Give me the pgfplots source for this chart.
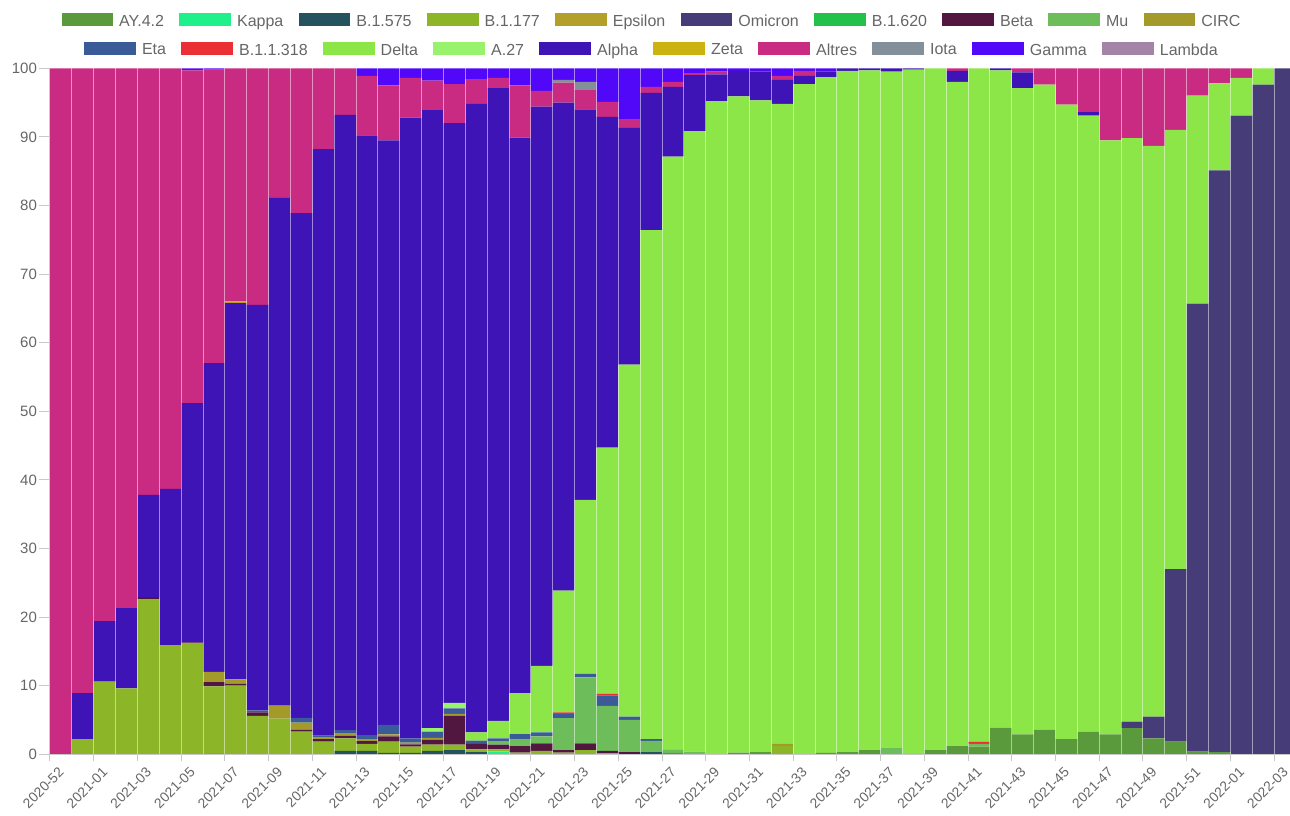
\documentclass[border=0pt]{standalone}
\usepackage{pgfplots}
\pgfplotsset{compat=1.18}
\usepackage{pgfplotstable}
\usepackage{fontspec}
\setmainfont{Liberation Sans}

\definecolor{cAY}{HTML}{5B9A3C}
\definecolor{cKap}{HTML}{20F08A}
\definecolor{cB575}{HTML}{24525E}
\definecolor{cB177}{HTML}{8CB528}
\definecolor{cEps}{HTML}{B3A02A}
\definecolor{cOmi}{HTML}{463C78}
\definecolor{cB620}{HTML}{22C24A}
\definecolor{cBeta}{HTML}{521740}
\definecolor{cMu}{HTML}{6DBE5B}
\definecolor{cCIRC}{HTML}{A39A2A}
\definecolor{cEta}{HTML}{3B5A98}
\definecolor{cB318}{HTML}{EA3035}
\definecolor{cDelta}{HTML}{8DE648}
\definecolor{cA27}{HTML}{98F26C}
\definecolor{cAlpha}{HTML}{3E14B6}
\definecolor{cZeta}{HTML}{CBB412}
\definecolor{cAltres}{HTML}{C92A82}
\definecolor{cIota}{HTML}{83909A}
\definecolor{cGamma}{HTML}{5208F8}
\definecolor{cLambda}{HTML}{A383A6}
\definecolor{labelgray}{HTML}{666666}
\definecolor{axisgray}{HTML}{C8C8C8}

\pgfplotstableread{
x AY Kap B575 B177 Eps Omi B620 Beta Mu CIRC Eta B318 Delta A27 Alpha Zeta Altres Iota Gamma Lambda
0 0 0 0 0 0 0 0 0 0 0 0 0 0 0 0 0 100 0 0 0
1 0 0 0 2.2 0 0 0 0 0 0 0 0 0 0 6.7 0 91.1 0 0 0
2 0 0 0 10.6 0 0 0 0 0 0 0 0 0 0 8.8 0 80.6 0 0 0
3 0 0 0 9.6 0 0 0 0 0 0 0 0 0 0 11.7 0 78.7 0 0 0
4 0 0 0 22.6 0 0 0 0.3 0 0 0 0 0 0 14.9 0 62.2 0 0 0
5 0 0 0 15.9 0 0 0 0 0 0 0 0 0 0 22.8 0 61.3 0 0 0
6 0 0 0 16.2 0 0 0 0.1 0 0 0 0 0 0 34.9 0 48.5 0 0.3 0
7 0 0 0.1 9.8 0 0 0 0.6 0 1.5 0 0 0 0 45.0 0 42.8 0 0.2 0
8 0 0 0 10.0 0 0 0 0.3 0 0.6 0 0 0 0 54.9 0.3 33.9 0 0 0
9 0 0 0 5.6 0 0 0 0.5 0 0 0.3 0 0 0 59.1 0 34.5 0 0 0
10 0 0 0 5.2 0 0 0 0 0 1.9 0 0 0 0 74.0 0 18.9 0 0 0
11 0 0 0 3.3 0 0 0 0.3 0 1.0 0.7 0 0 0 73.6 0 21.1 0 0 0
12 0 0 0 1.85 0 0 0 0.35 0 0.3 0.2 0 0 0 85.5 0 11.8 0 0 0
13 0 0 0.5 1.8 0 0 0 0.4 0 0.3 0.5 0 0 0 89.7 0 6.8 0 0 0
14 0 0 0.5 1.0 0 0 0 0.4 0 0.3 0.6 0 0 0 87.4 0 8.7 0 1.1 0
15 0 0 0.2 1.65 0 0 0 0.75 0 0.3 1.4 0 0 0 85.2 0 8.0 0 2.5 0
16 0 0 0.2 0.9 0 0 0 0.35 0 0.25 0.6 0 0 0 90.5 0 5.8 0 1.4 0
17 0 0 0.5 0.9 0 0 0 0.7 0 0.3 0.9 0 0 0.5 90.1 0 4.3 0 1.8 0
18 0 0 0.6 0.8 0 0 0 4.2 0 0.3 0.8 0 0 0.8 84.5 0 5.7 0 2.3 0
19 0 0 0.3 0.4 0 0 0 0.8 0 0 0.5 0 1.2 0 91.6 0 3.6 0 1.6 0
20 0 0.4 0 0.3 0 0 0 0.7 0.5 0 0.4 0 2.55 0 92.25 0 1.5 0 1.4 0
21 0 0 0 0.25 0 0 0 0.95 1.0 0 0.75 0 5.95 0 81.0 0 7.6 0 2.5 0
22 0 0 0 0.5 0 0 0 1.1 1.0 0 0.6 0 9.7 0 81.5 0 2.3 0 3.3 0
23 0 0 0 0.25 0 0 0 0.35 4.65 0 0.65 0.2 17.75 0 71.15 0 2.9 0.4 1.7 0
24 0 0 0 0.6 0 0 0 1.0 9.6 0 0.5 0 25.4 0 56.9 0 2.8 1.2 2.0 0
25 0 0 0 0.15 0 0 0 0.35 6.55 0 1.55 0.2 35.9 0 48.2 0 2.2 0 4.9 0
26 0 0 0 0 0 0 0 0.3 4.7 0 0.5 0 51.3 0 34.5 0 1.3 0 7.4 0
27 0 0 0.3 0 0 0 0 0 1.65 0 0.25 0 74.2 0 20.0 0 0.9 0 2.7 0
28 0.2 0 0 0 0 0 0 0 0.5 0 0 0 86.4 0 10.2 0 0.7 0 2.0 0
29 0 0 0 0 0 0 0 0 0.4 0 0 0 90.4 0 8.2 0 0.3 0 0.7 0
30 0 0 0 0 0 0 0 0 0 0 0 0 95.2 0 3.9 0 0.4 0 0.5 0
31 0.25 0 0 0 0 0 0 0 0 0 0 0 95.65 0 3.7 0 0 0 0.4 0
32 0.3 0 0 0 0 0 0 0 0 0 0 0 95.0 0 4.2 0 0 0 0.5 0
33 0 0 0 1.2 0 0 0 0 0 0.3 0 0 93.3 0 3.5 0 0.6 0 1.1 0
34 0 0 0 0 0 0 0 0 0 0 0 0 97.7 0 1.2 0 0.7 0 0.4 0
35 0.2 0 0 0 0 0 0 0 0 0 0 0 98.5 0 0.8 0 0 0 0.5 0
36 0.3 0 0 0 0 0 0 0 0 0 0 0 99.3 0 0.4 0 0 0 0 0
37 0.6 0 0 0 0 0 0 0 0 0 0 0 99.1 0 0.3 0 0 0 0 0
38 0 0 0 0 0 0 0 0 0.9 0 0 0 98.6 0 0.5 0 0 0 0 0
39 0.1 0 0 0 0 0 0 0 0 0 0 0 99.7 0 0.2 0 0 0 0 0
40 0.6 0 0 0 0 0 0 0 0 0 0 0 99.4 0 0 0 0 0 0 0
41 1.2 0 0 0 0 0 0 0 0 0 0 0 96.8 0 1.6 0 0.4 0 0 0
42 1.1 0 0 0 0 0 0 0 0.4 0 0 0.35 98.15 0 0 0 0 0 0 0
43 3.9 0 0 0 0 0 0 0 0 0 0 0 95.8 0 0.3 0 0 0 0 0
44 2.9 0 0 0 0 0 0 0 0 0 0 0 94.2 0 2.3 0 0.6 0 0 0
45 3.6 0 0 0 0 0 0 0 0 0 0 0 94.0 0 0 0 2.4 0 0 0
46 2.2 0 0 0 0 0 0 0 0 0 0 0 92.5 0 0 0 5.3 0 0 0
47 3.3 0 0 0 0 0 0 0 0 0 0 0 89.8 0 0.5 0 6.4 0 0 0
48 2.9 0 0 0 0 0 0 0 0 0 0 0 86.6 0 0 0 10.5 0 0 0
49 3.8 0 0 0 0 0.95 0 0 0 0 0 0 85.05 0 0 0 10.2 0 0 0
50 2.3 0 0 0 0 3.2 0 0 0 0 0 0 83.2 0 0 0 11.3 0 0 0
51 1.85 0 0 0 0 25.15 0 0 0 0 0 0 64.0 0 0 0 9.0 0 0 0
52 0.4 0 0 0 0 65.3 0 0 0 0 0 0 30.3 0 0 0 4.0 0 0 0
53 0.3 0 0 0 0 84.8 0 0 0 0 0 0 12.7 0 0 0 2.2 0 0 0
54 0 0 0 0 0 93.1 0 0 0 0 0 0 5.5 0 0 0 1.4 0 0 0
55 0 0 0 0 0 97.6 0 0 0 0 0 0 2.4 0 0 0 0 0 0 0
56 0 0 0 0 0 100 0 0 0 0 0 0 0 0 0 0 0 0 0 0
}\data

\pgfplotsset{
  legrow/.style={
    legend columns=10,
    legend cell align=left,
    legend style={draw=none, fill=none, inner sep=0pt,
      font=\fontsize{12}{14}\selectfont, text=labelgray,
      nodes={inner sep=0pt},
      column sep=4.5pt,
      /tikz/every even column/.append style={column sep=11.5pt},
      at={(axis description cs:0.4847,1)}, anchor=center, yshift=#1},
  },
}

\begin{document}
\begin{tikzpicture}
\useasboundingbox (0,0) rectangle (967.5pt,612pt);
\begin{axis}[
  at={(37.5pt,46.3pt)}, anchor=south west,
  scale only axis, width=930pt, height=514.5pt,
  xmin=-0.5, xmax=56.225, ymin=0, ymax=100,
  ybar stacked, bar width=1,
  every axis plot post/.append style={legend image code/.code={\fill[##1] (0pt,-3.4pt) rectangle (38.8pt,6.6pt);}},
  axis on top,
  axis x line*=bottom, axis y line*=left,
  axis line style={draw=axisgray, line width=0.75pt},
  tick align=outside,
  tick style={draw=axisgray, line width=0.75pt},
  minor tick length=0pt,
  xtick style={/pgfplots/major tick length=5.25pt},
  ytick style={/pgfplots/major tick length=8.25pt},
  xtick={-0.5,1.5,...,55.5},
  xticklabels={2020-52,2021-01,2021-03,2021-05,2021-07,2021-09,2021-11,2021-13,2021-15,2021-17,2021-19,2021-21,2021-23,2021-25,2021-27,2021-29,2021-31,2021-33,2021-35,2021-37,2021-39,2021-41,2021-43,2021-45,2021-47,2021-49,2021-51,2022-01,2022-03},
  minor x tick num=1,
  xmajorgrids, xminorgrids,
  major grid style={draw=white, opacity=0.5, line width=0.75pt},
  minor grid style={draw=white, opacity=0.5, line width=0.75pt},
  ytick={0,10,...,100},
  /pgf/number format/assume math mode=true,
  yticklabel style={font=\fontsize{11.25}{13}\selectfont, text=labelgray, xshift=-2pt},
  xticklabel style={font=\fontsize{10.4}{13}\selectfont, text=labelgray, inner sep=0pt, xshift=8.6pt, yshift=-7.25pt, rotate=45, anchor=east},
  legrow=35.5pt,
]
\addplot[fill=cAY,draw=none] table[x=x,y=AY]{\data};
\addplot[fill=cKap,draw=none] table[x=x,y=Kap]{\data};
\addplot[fill=cB575,draw=none] table[x=x,y=B575]{\data};
\addplot[fill=cB177,draw=none] table[x=x,y=B177]{\data};
\addplot[fill=cEps,draw=none] table[x=x,y=Eps]{\data};
\addplot[fill=cOmi,draw=none] table[x=x,y=Omi]{\data};
\addplot[fill=cB620,draw=none] table[x=x,y=B620]{\data};
\addplot[fill=cBeta,draw=none] table[x=x,y=Beta]{\data};
\addplot[fill=cMu,draw=none] table[x=x,y=Mu]{\data};
\addplot[fill=cCIRC,draw=none] table[x=x,y=CIRC]{\data};
\addplot[fill=cEta,draw=none] table[x=x,y=Eta]{\data};
\addplot[fill=cB318,draw=none] table[x=x,y=B318]{\data};
\addplot[fill=cDelta,draw=none] table[x=x,y=Delta]{\data};
\addplot[fill=cA27,draw=none] table[x=x,y=A27]{\data};
\addplot[fill=cAlpha,draw=none] table[x=x,y=Alpha]{\data};
\addplot[fill=cZeta,draw=none] table[x=x,y=Zeta]{\data};
\addplot[fill=cAltres,draw=none] table[x=x,y=Altres]{\data};
\addplot[fill=cIota,draw=none] table[x=x,y=Iota]{\data};
\addplot[fill=cGamma,draw=none] table[x=x,y=Gamma]{\data};
\addplot[fill=cLambda,draw=none] table[x=x,y=Lambda]{\data};
\legend{AY.4.2,Kappa,B.1.575,B.1.177,Epsilon,Omicron,B.1.620,Beta,Mu,CIRC}
\end{axis}
\begin{axis}[
  at={(37.5pt,46.3pt)}, anchor=south west,
  scale only axis, width=930pt, height=514.5pt,
  xmin=-0.5, xmax=56.225, ymin=0, ymax=100,
  hide axis,
  legend image code/.code={\fill[#1] (0pt,-3.4pt) rectangle (38.8pt,6.6pt);},
  legrow=14.1pt,
]
\addplot[draw=none, forget plot] coordinates {(0,0)};
\addlegendimage{fill=cEta,draw=none}\addlegendentry{Eta}
\addlegendimage{fill=cB318,draw=none}\addlegendentry{B.1.1.318}
\addlegendimage{fill=cDelta,draw=none}\addlegendentry{Delta}
\addlegendimage{fill=cA27,draw=none}\addlegendentry{A.27}
\addlegendimage{fill=cAlpha,draw=none}\addlegendentry{Alpha}
\addlegendimage{fill=cZeta,draw=none}\addlegendentry{Zeta}
\addlegendimage{fill=cAltres,draw=none}\addlegendentry{Altres}
\addlegendimage{fill=cIota,draw=none}\addlegendentry{Iota}
\addlegendimage{fill=cGamma,draw=none}\addlegendentry{Gamma}
\addlegendimage{fill=cLambda,draw=none}\addlegendentry{Lambda}
\end{axis}
\end{tikzpicture}
\end{document}
